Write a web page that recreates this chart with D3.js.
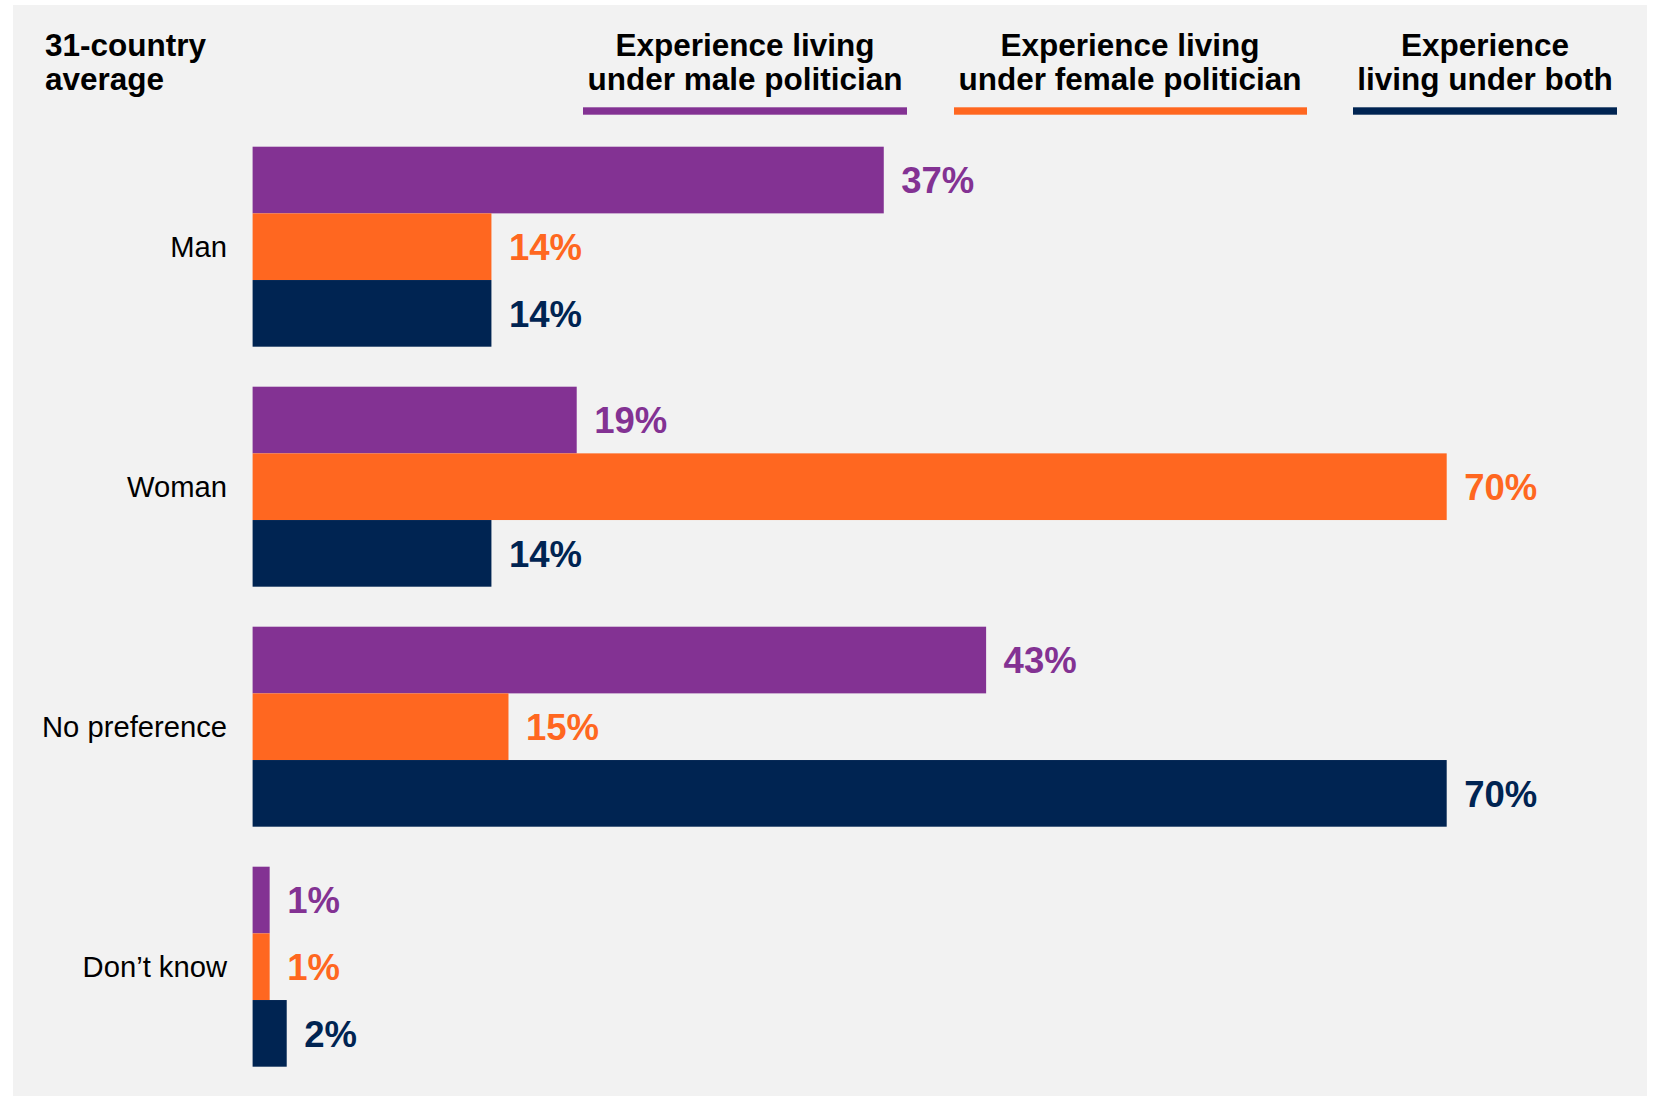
<!DOCTYPE html>
<html>
<head>
<meta charset="utf-8">
<script src="https://cdn.jsdelivr.net/npm/d3@7"></script>
<style>
  html, body { margin: 0; padding: 0; background: #ffffff; }
  svg { display: block; font-family: "Liberation Sans", Arial, sans-serif; }
</style>
</head>
<body>
<svg id="chart" width="1658" height="1096"></svg>
<script>
// ---- data ----
const categories = ["Man", "Woman", "No preference", "Don\u2019t know"];
const seriesKeys = ["male", "female", "both"];
const seriesNames = [
  ["Experience living", "under male politician"],
  ["Experience living", "under female politician"],
  ["Experience", "living under both"]
];
const maleValues = [37, 19, 43, 1];
const femaleValues = [14, 70, 15, 1];
const bothValues = [14, 14, 70, 2];
const titleLines = ["31-country", "average"];

const seriesValues = { male: maleValues, female: femaleValues, both: bothValues };
const colors = { male: "#833293", female: "#ff6720", both: "#002452" };

// ---- layout ----
const svg = d3.select("#chart");

svg.append("rect")
  .attr("x", 13).attr("y", 5)
  .attr("width", 1634).attr("height", 1091)
  .attr("fill", "#f2f2f2");

const x = d3.scaleLinear().domain([0, 70]).range([252.6, 1446.7]);
const y = d3.scaleBand().domain(categories).range([146.7, 1066.7]).paddingInner(1 / 6).paddingOuter(0);
const ySub = d3.scaleBand().domain(seriesKeys).range([0, y.bandwidth()]).padding(0);

// title
svg.append("text")
  .attr("x", 45).attr("y", 56)
  .attr("font-size", 31.5).attr("font-weight", "bold").attr("fill", "#000")
  .selectAll("tspan").data(titleLines).join("tspan")
  .attr("x", 45).attr("dy", (d, i) => i === 0 ? 0 : 33.5)
  .text(d => d);

// legend
const legendCenters = [745, 1130, 1485];
const legendExtents = [[583, 907], [954, 1307], [1353, 1617]];
const legend = svg.append("g");
seriesKeys.forEach((k, i) => {
  legend.append("text")
    .attr("x", legendCenters[i]).attr("y", 56)
    .attr("text-anchor", "middle")
    .attr("font-size", 31.5).attr("font-weight", "bold").attr("fill", "#000")
    .selectAll("tspan").data(seriesNames[i]).join("tspan")
    .attr("x", legendCenters[i]).attr("dy", (d, j) => j === 0 ? 0 : 33.5)
    .text(d => d);
  legend.append("rect")
    .attr("x", legendExtents[i][0]).attr("y", 107.3)
    .attr("width", legendExtents[i][1] - legendExtents[i][0]).attr("height", 7.4)
    .attr("fill", colors[k]);
});

// category labels
svg.append("g").selectAll("text").data(categories).join("text")
  .attr("x", 227)
  .attr("y", d => y(d) + y.bandwidth() / 2)
  .attr("dy", "0.35em")
  .attr("text-anchor", "end")
  .attr("font-size", 29.2)
  .attr("fill", "#000")
  .text(d => d);

// bars and labels
const rows = [];
categories.forEach((c, ci) => {
  seriesKeys.forEach(k => rows.push({ cat: c, key: k, value: seriesValues[k][ci] }));
});

svg.append("g").selectAll("rect").data(rows).join("rect")
  .attr("x", x(0))
  .attr("y", d => y(d.cat) + ySub(d.key))
  .attr("width", d => x(d.value) - x(0))
  .attr("height", ySub.bandwidth())
  .attr("fill", d => colors[d.key]);

svg.append("g").selectAll("text").data(rows).join("text")
  .attr("x", d => x(d.value) + 17.5)
  .attr("y", d => y(d.cat) + ySub(d.key) + ySub.bandwidth() / 2)
  .attr("dy", "0.36em")
  .attr("font-size", 36.5)
  .attr("font-weight", "bold")
  .attr("fill", d => colors[d.key])
  .text(d => d.value + "%");
</script>
</body>
</html>
